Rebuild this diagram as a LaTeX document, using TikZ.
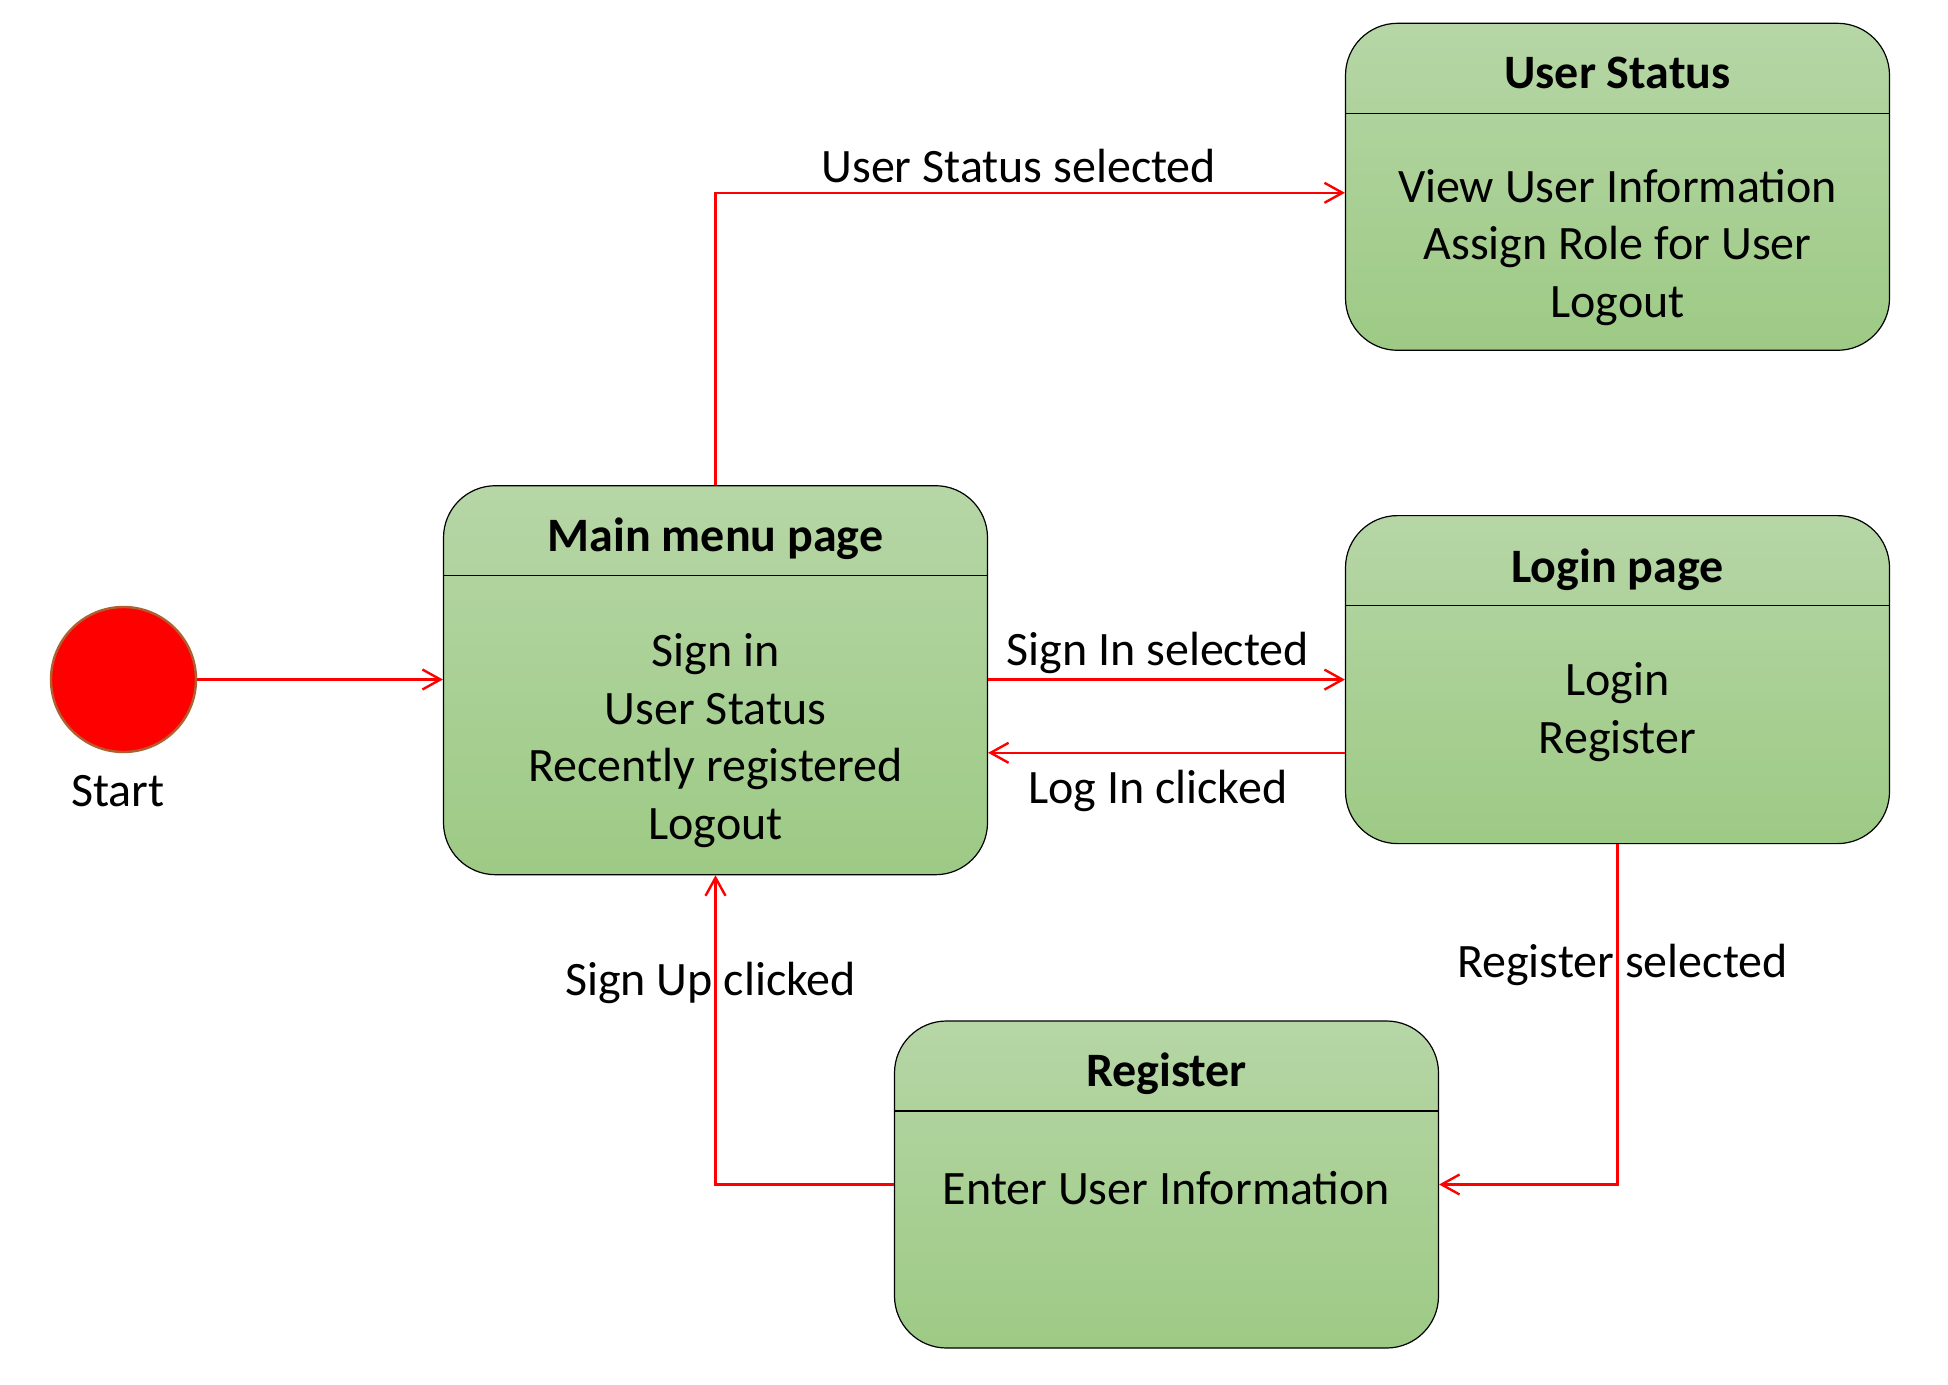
\documentclass[tikz,border=0pt]{standalone}
\usepackage{fontspec}
\setmainfont{Carlito}
\usetikzlibrary{arrows.meta,calc}
\definecolor{gtop}{RGB}{182,214,166}
\definecolor{gbot}{RGB}{157,202,133}
\definecolor{cedge}{RGB}{176,96,48}
\tikzset{
  sbox/.style={draw=black, line width=0.6pt, rounded corners=26pt, top color=gtop, bottom color=gbot,
    minimum width=272pt, inner sep=0pt},
  txt/.style={font=\fontsize{24pt}{28.8pt}\selectfont, align=center, inner sep=0pt},
  ttl/.style={font=\fontsize{24pt}{28.8pt}\selectfont\bfseries, inner sep=0pt},
  arr/.style={draw=red, line width=1.2pt, -{Straight Barb[length=9pt,width=10pt]}},
  hdr/.style={draw=black, line width=0.6pt}
}
\begin{document}
\begin{tikzpicture}[x=0.5pt,y=-0.5pt]
\useasboundingbox (0,0) rectangle (1948,1385);
% start
\node[circle, fill=red, draw=cedge, line width=1.2pt, minimum size=72.5pt, inner sep=0pt] (start) at (123.5,679.5) {};
\node[txt] (startlbl) at (118,791) {Start};
% boxes
\node[sbox, minimum height=194.5pt] (main) at (715.5,680.2) {};
\node[sbox, minimum height=163.5pt] (us) at (1617.5,186.8) {};
\node[sbox, minimum height=164pt] (login) at (1617.5,679.6) {};
\node[sbox, minimum height=163.5pt] (reg) at (1166.5,1184.5) {};
\foreach \b in {main,us,login,reg}{
  \draw[hdr] ([yshift=-45.3pt]\b.north west) -- ([yshift=-45.3pt]\b.north east);
}
% titles
\node[ttl] (maint) at (715.5,538.5) {Main menu page};
\node[ttl] (ust) at (1617.5,72.5) {User Status};
\node[ttl] (logint) at (1617.5,569.5) {Login page};
\node[ttl] (regt) at (1166.5,1074) {Register};
% bodies
\node[txt] (mainb) at (715.5,740.5) {Sign in\\User Status\\Recently registered\\Logout};
\node[txt] (usb) at (1617.5,247.5) {View User Information\\Assign Role for User\\Logout};
\node[txt] (loginb) at (1617.5,712) {Login\\Register};
\node[txt] (regb) at (1166.5,1188) {Enter User Information};
% connectors
\draw[arr] (start.east) -- (start.east -| main.west);
\draw[arr] (main.north) |- ([yshift=-3pt]us.west);
\draw[arr] (main.east |- login.west) -- (login.west);
\draw[arr] ([yshift=-36.6pt]login.west) -- ([yshift=-36.6pt]login.west -| main.east);
\draw[arr] (login.south) |- (reg.east);
\draw[arr] (reg.west) -| (main.south);
% labels
\node[txt] (l1) at (1018.7,166) {User Status selected};
\node[txt] (l2) at (1157.8,653) {Sign In selected};
\node[txt] (l3) at (1157.8,791) {Log In clicked};
\node[txt] (l4) at (1622.4,965) {Register selected};
\node[txt] (l5) at (710.6,982.5) {Sign Up clicked};
\end{tikzpicture}
\end{document}
